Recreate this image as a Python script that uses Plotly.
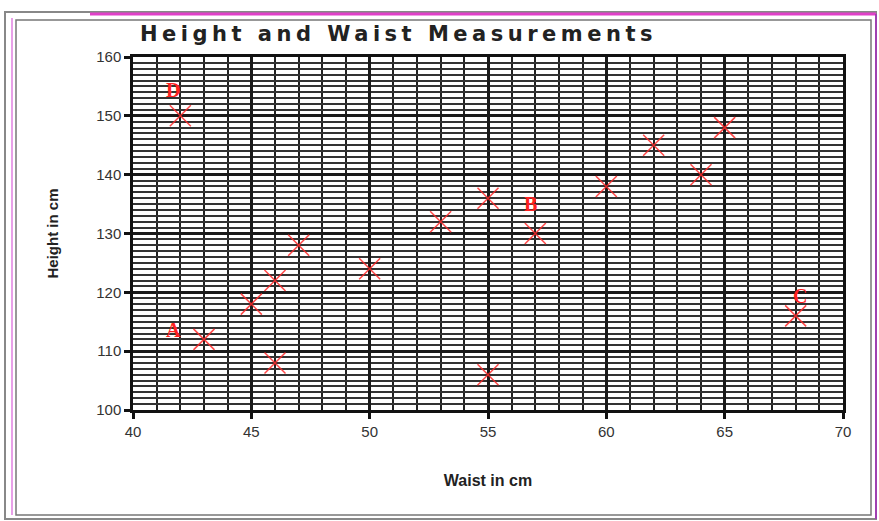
import plotly.graph_objects as go

# Measurements: waist (cm) against height (cm)
waist = [42, 43, 45, 46, 46, 47, 50, 53, 55, 55, 57, 60, 62, 64, 65, 68]
height = [150, 112, 118, 122, 108, 128, 124, 132, 136, 106, 130, 138, 145, 140, 148, 116]

# Letter labels placed next to four of the points
label_text = ["A", "B", "C", "D"]
label_x = [41.7, 56.8, 68.2, 41.7]
label_y = [113.6, 135.0, 119.4, 154.4]

W, H = 879, 521
L, R, T, B = 133, 843, 57, 410


def px(x):
    return (x - L) / (R - L)


def py(y):
    return (B - y) / (B - T)


fig = go.Figure()
fig.add_trace(go.Scatter(
    x=waist, y=height, mode="markers",
    marker=dict(symbol="x-thin", size=21, color="rgba(0,0,0,0)",
                line=dict(width=1.5, color="rgba(255,40,40,0.85)")),
    showlegend=False, hoverinfo="x+y",
))

for t, x, y in zip(label_text, label_x, label_y):
    fig.add_annotation(x=x, y=y, text=f"<b>{t}</b>", showarrow=False,
                       font=dict(family="Liberation Serif", size=20, color="#ff2020"))

axis_common = dict(
    showline=True, linecolor="#111", linewidth=2.5, mirror=True,
    ticks="outside", ticklen=6, tickwidth=3, tickcolor="#111",
    showgrid=True, gridcolor="#1a1a1a", gridwidth=2.5, zeroline=False,
    tickfont=dict(family="Liberation Sans Narrow, Liberation Sans", size=15, color="#333"),
)

fig.update_xaxes(
    range=[40, 70], dtick=5, tick0=40,
    minor=dict(dtick=1, showgrid=True, gridcolor="#222", gridwidth=2.2),
    title=dict(text="<b>Waist in cm</b>", standoff=37,
               font=dict(family="Liberation Sans Narrow, Liberation Sans", size=16, color="#222")),
    **axis_common,
)
fig.update_yaxes(
    range=[100, 160], dtick=10, tick0=100,
    minor=dict(dtick=1, showgrid=True, gridcolor="#333", gridwidth=1.6),
    title=dict(text="<b>Height in cm</b>", standoff=34,
               font=dict(family="Liberation Sans Narrow, Liberation Sans", size=15, color="#222")),
    **axis_common,
)

# Chart frame drawn around the whole figure
shapes = [
    dict(type="rect", xref="paper", yref="paper",
         x0=px(5), x1=px(876), y0=py(519), y1=py(12),
         line=dict(color="#888", width=2), layer="below"),
    dict(type="line", xref="paper", yref="paper",
         x0=px(90), x1=px(876), y0=py(14), y1=py(14),
         line=dict(color="#e040c8", width=3)),
    dict(type="line", xref="paper", yref="paper",
         x0=px(876), x1=px(876), y0=py(519), y1=py(14),
         line=dict(color="#a040b0", width=2)),
    dict(type="line", xref="paper", yref="paper",
         x0=px(12), x1=px(12), y0=py(515), y1=py(18),
         line=dict(color="#e8a0e8", width=2)),
    dict(type="rect", xref="paper", yref="paper",
         x0=px(16), x1=px(871), y0=py(515), y1=py(20),
         line=dict(color="#777", width=1.5), layer="below"),
]

fig.update_layout(
    width=W, height=H,
    margin=dict(l=L, r=W - R, t=T, b=H - B),
    paper_bgcolor="white", plot_bgcolor="white",
    title=dict(
        text='<span style="letter-spacing:4.5px"><b>Height and Waist Measurements</b></span>',
        x=140 / W, xanchor="left", y=1 - 34 / H, yanchor="middle",
        font=dict(family="DejaVu Sans", size=21, color="#222"),
    ),
    shapes=shapes,
)

fig.write_html("out.html")
